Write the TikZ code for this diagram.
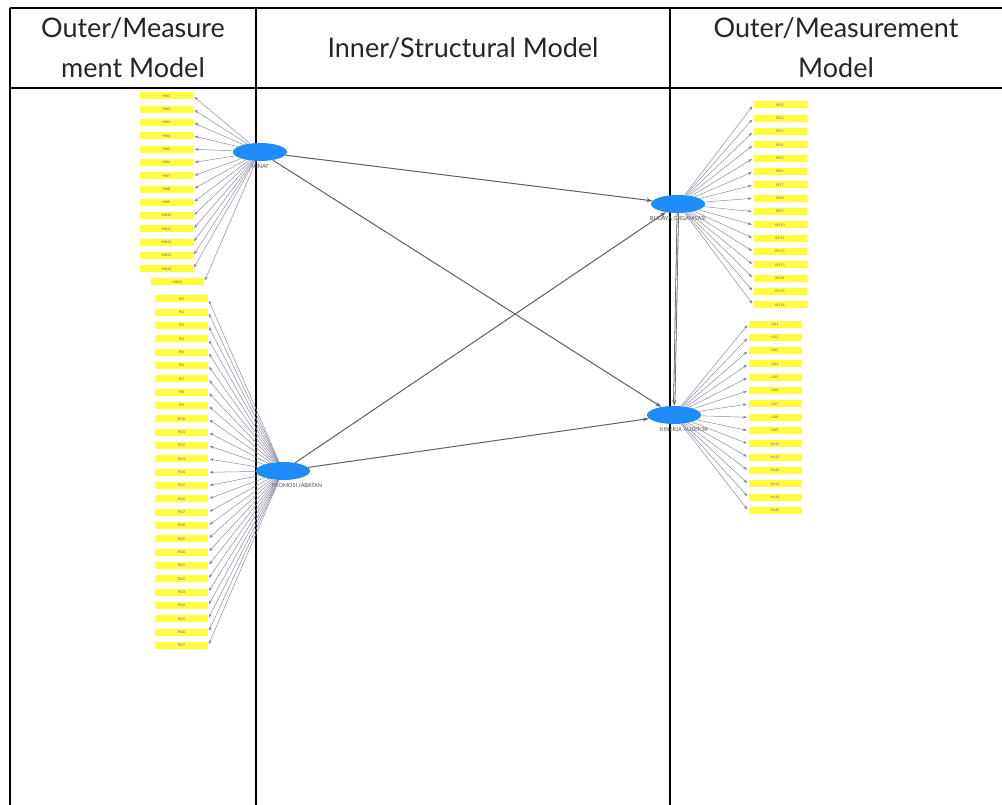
\documentclass[tikz,border=0pt]{standalone}
\usepackage{fontspec}
\setmainfont{Lato}
\usetikzlibrary{arrows.meta,positioning,shapes.geometric}
\definecolor{indyellow}{RGB}{255,255,60}
\definecolor{lvblue}{RGB}{30,140,250}
\definecolor{loadgray}{RGB}{140,140,165}
\definecolor{pathgray}{RGB}{95,95,95}
\tikzset{
  % indikator dan variabel laten
  ind/.style     = {rectangle, fill=indyellow, minimum width=53pt, minimum height=7pt,
                    inner sep=0pt, font=\fontsize{3.5}{4}\selectfont, text=black!60},
  lv/.style      = {ellipse, fill=lvblue, minimum width=54pt, minimum height=18pt, inner sep=0pt},
  lvlab/.style   = {font=\fontsize{5.5}{6}\selectfont, text=black!70, inner sep=0pt},
  % garis
  load/.style    = {loadgray, line width=0.5pt, shorten >=1.5pt,
                    -{Stealth[length=4pt,width=3pt,fill=black!85]}},
  pathline/.style= {pathgray, line width=1pt, -{Stealth[length=6pt,width=4pt]}},
  grid/.style    = {black, line width=2.2pt},
  head/.style    = {font=\fontsize{27}{40}\selectfont, align=center, text=black!85},
}
\begin{document}
\begin{tikzpicture}[x=1pt,y=-1pt]
  \useasboundingbox (0,0) rectangle (1002,805);
  % tabel
  \draw[grid] (10,8) -- (1002,8);
  \draw[grid] (10,88) -- (1002,88);
  \foreach \xx in {10,256,670} \draw[grid] (\xx,8) -- (\xx,805);
  \node[head] (h1) at (133,48) {Outer/Measure\\ment Model};
  \node[head] (h2) at (463,48) {Inner/Structural Model};
  \node[head] (h3) at (836,48) {Outer/Measurement\\Model};
  % variabel laten
  \node[lv] (mn) at (260,152) {};
  \node[lv] (pj) at (283,471) {};
  \node[lv] (bo) at (678,204) {};
  \node[lv] (ka) at (674,415) {};
  \node[lvlab, below=3pt of mn] (mnlab) {MINAT};
  \node[lvlab, below=3pt of pj, xshift=14pt] (pjlab) {PROMOSI JABATAN};
  \node[lvlab, below=3pt of bo] (bolab) {BUDAYA ORGANISASI};
  \node[lvlab, below=3pt of ka, xshift=10pt] (kalab) {KINERJA AUDITOR};
  % indikator MINAT
  \foreach \i in {1,...,14}
    \node[ind] (mn\i) at (166.5,{96+(\i-1)*13.3}) {MN\i};
  \node[ind] (mn15) at (177.5,282) {MN15};
  \foreach \i in {1,...,15}
    \draw[load] (mn) -- (mn\i.east);
  % indikator PROMOSI JABATAN
  \foreach \i in {1,...,27}
    \node[ind] (pj\i) at (181.5,{299+(\i-1)*13.33}) {PJ\i};
  \foreach \i in {1,...,27}
    \draw[load] (pj) -- (pj\i.east);
  % indikator BUDAYA ORGANISASI
  \foreach \i in {1,...,16}
    \node[ind] (bo\i) at (780,{105+(\i-1)*13.33}) {BO\i};
  \foreach \i in {1,...,16}
    \draw[load] (bo) -- (bo\i.west);
  % indikator KINERJA AUDITOR
  \foreach \i in {1,...,15}
    \node[ind] (ka\i) at (775,{324+(\i-1)*13.33}) {KA\i};
  \foreach \i in {1,...,15}
    \draw[load] (ka) -- (ka\i.west);
  % model struktural
  \draw[pathline] (mn) -- (bo);
  \draw[pathline] (mn) -- (ka);
  \draw[pathline] (pj) -- (bo);
  \draw[pathline] (pj) -- (ka);
  \draw[pathline, double=white, double distance=0.6pt, line width=0.8pt] (bo) -- (ka);
\end{tikzpicture}
\end{document}
